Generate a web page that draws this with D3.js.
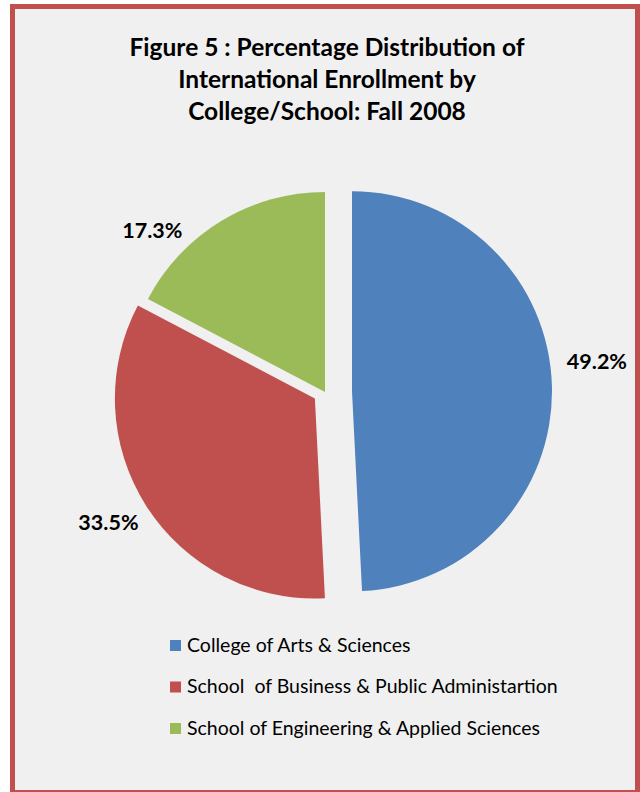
<!DOCTYPE html>
<html>
<head>
<meta charset="utf-8">
<script src="https://cdn.jsdelivr.net/npm/d3@7"></script>
<style>
  body { margin: 0; background: #fff; }
  svg { display: block; }
</style>
</head>
<body>
<div id="chart"></div>
<script>
const categories = [
    'College of Arts & Sciences',
    'School  of Business & Public Administartion',
    'School of Engineering & Applied Sciences'
];
const percents = [49.2, 33.5, 17.3];
const titleLines = [
    'Figure 5 : Percentage Distribution of',
    'International Enrollment by',
    'College/School: Fall 2008'
];

const colors = ['#4f81bd', '#c0504d', '#9bbb59'];
// how far each slice is pulled out, as a share of the radius
const explode = [0.135, 0.06, 0];
// small hand tweaks so labels sit where the original put them
const labelNudge = [[0, -24], [0, -8], [-46, 48]];

function drawChart() {
    const width = 640, height = 792;
    const cx = 325, cy = 392, radius = 200;

    const svg = d3.select('#chart').append('svg')
        .attr('width', width)
        .attr('height', height);

    // frame
    svg.append('rect')
        .attr('x', 12.5).attr('y', 6.5)
        .attr('width', 625).attr('height', 786)
        .attr('fill', '#f0f0f0')
        .attr('stroke', '#c0504d')
        .attr('stroke-width', 5);

    // title
    svg.append('g').selectAll('text')
        .data(titleLines)
        .join('text')
        .attr('x', 327)
        .attr('y', (d, i) => 56 + i * 32)
        .attr('text-anchor', 'middle')
        .attr('font-family', 'Lato, sans-serif')
        .attr('font-weight', 'bold')
        .attr('font-size', '24.5px')
        .attr('fill', '#000')
        .text(d => d);

    const pie = d3.pie().sort(null).value(d => d);
    const arcs = pie(percents);
    const arc = d3.arc().innerRadius(0).outerRadius(radius);

    function offset(d, i) {
        const mid = (d.startAngle + d.endAngle) / 2;
        const k = explode[i] * radius;
        return [cx + k * Math.sin(mid), cy - k * Math.cos(mid)];
    }

    const slices = svg.append('g').attr('class', 'slices');
    slices.selectAll('path')
        .data(arcs)
        .join('path')
        .attr('transform', (d, i) => `translate(${offset(d, i)})`)
        .attr('fill', (d, i) => colors[i])
        .attr('d', arc);

    // percentage labels outside each slice
    const labelRadius = 245;
    svg.append('g').selectAll('text')
        .data(arcs)
        .join('text')
        .attr('x', (d, i) => {
            const mid = (d.startAngle + d.endAngle) / 2;
            return offset(d, i)[0] + labelRadius * Math.sin(mid) + labelNudge[i][0];
        })
        .attr('y', (d, i) => {
            const mid = (d.startAngle + d.endAngle) / 2;
            return offset(d, i)[1] - labelRadius * Math.cos(mid) + labelNudge[i][1];
        })
        .attr('dy', '0.35em')
        .attr('text-anchor', 'middle')
        .attr('font-family', 'Lato, sans-serif')
        .attr('font-weight', 'bold')
        .attr('font-size', '21.5px')
        .attr('fill', '#000')
        .text(d => d.value.toFixed(1) + '%');

    // legend
    const legend = svg.append('g').attr('transform', 'translate(170,640)');
    const rows = legend.selectAll('g')
        .data(categories)
        .join('g')
        .attr('transform', (d, i) => `translate(0,${i * 41.5})`);

    rows.append('rect')
        .attr('width', 11).attr('height', 11)
        .attr('fill', (d, i) => colors[i]);

    rows.append('text')
        .attr('x', 17)
        .attr('y', 11.5)
        .attr('font-family', 'Lato, sans-serif')
        .attr('font-size', '19.5px')
        .attr('fill', '#000')
        .style('white-space', 'pre')
        .text(d => d);
}

drawChart();
</script>
</body>
</html>
